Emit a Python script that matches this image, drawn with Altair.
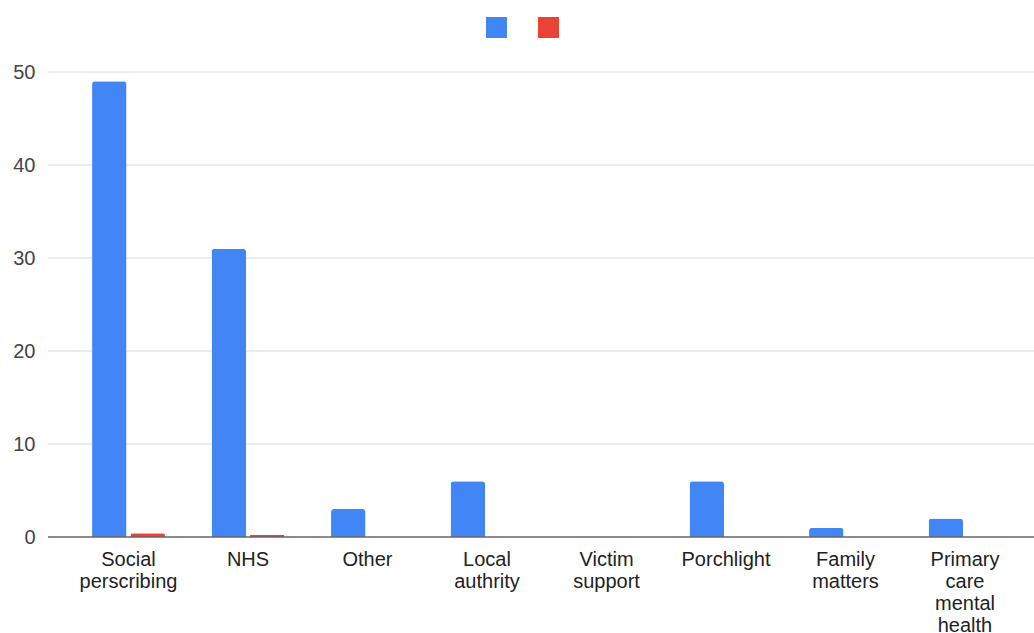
import altair as alt
import pandas as pd

categories = ["Social perscribing", "NHS", "Other", "Local authrity", "Victim support",
              "Porchlight", "Family matters", "Primary care mental health"]
series1 = [49, 31, 3, 6, 0, 6, 1, 2]
series2 = [0.4, 0.25, 0, 0, 0, 0, 0, 0]
series_names = ["Series 1", "Series 2"]
colors = ["#4285F4", "#EA4335"]
y_ticks = [0, 10, 20, 30, 40, 50]

rows = []
for c, a, b in zip(categories, series1, series2):
    rows.append({"category": c, "series": series_names[0], "value": a})
    rows.append({"category": c, "series": series_names[1], "value": b})
df = pd.DataFrame(rows)

font = "Liberation Sans"

grid = alt.Chart(pd.DataFrame({"v": y_ticks[1:]})).mark_rule(color="#dadada", strokeWidth=1).encode(
    y=alt.Y("v:Q"), x=alt.value(0), x2=alt.value(986)
)

bars = alt.Chart(df).mark_bar(cornerRadiusTopLeft=3, cornerRadiusTopRight=3).encode(
    x=alt.X("category:N", sort=categories,
            scale=alt.Scale(range=[20.75, 976.75], paddingInner=0.39, paddingOuter=0.195),
            axis=alt.Axis(title=None, labelAngle=0, labelExpr="split(datum.label, ' ')",
                          labelFontSize=20, labelFont=font, labelColor="#222222",
                          labelPadding=12, labelLineHeight=22, labelBaseline="top",
                          ticks=False, domain=False, labelLimit=300, grid=False)),
    xOffset=alt.XOffset("series:N", sort=series_names,
                        scale=alt.Scale(paddingInner=0.104, paddingOuter=0)),
    y=alt.Y("value:Q", scale=alt.Scale(domain=[0, 50], nice=False),
            axis=alt.Axis(title=None, values=y_ticks, labelFontSize=20, labelFont=font,
                          labelColor="#444444", labelPadding=13, domain=False, ticks=False,
                          grid=False)),
    color=alt.Color("series:N",
                    scale=alt.Scale(domain=series_names, range=colors),
                    legend=alt.Legend(title=None, orient="none", legendX=438, legendY=-55,
                                      direction="horizontal", symbolType="square",
                                      symbolSize=441, symbolStrokeWidth=0,
                                      labelExpr="''", labelOffset=4, columnPadding=27,
                                      padding=0)),
)

baseline = alt.Chart(pd.DataFrame({"v": [0]})).mark_rule(color="#666666", strokeWidth=1.5).encode(
    y="v:Q", x=alt.value(0), x2=alt.value(986)
)

chart = alt.layer(grid, bars, baseline).properties(
    width=986, height=465,
    autosize=alt.AutoSizeParams(type="none"),
    padding={"left": 48, "top": 72, "right": 0, "bottom": 96},
    background="white",
).configure_view(stroke=None)

chart.save("out.html", embed_options={"renderer": "svg", "actions": False})
